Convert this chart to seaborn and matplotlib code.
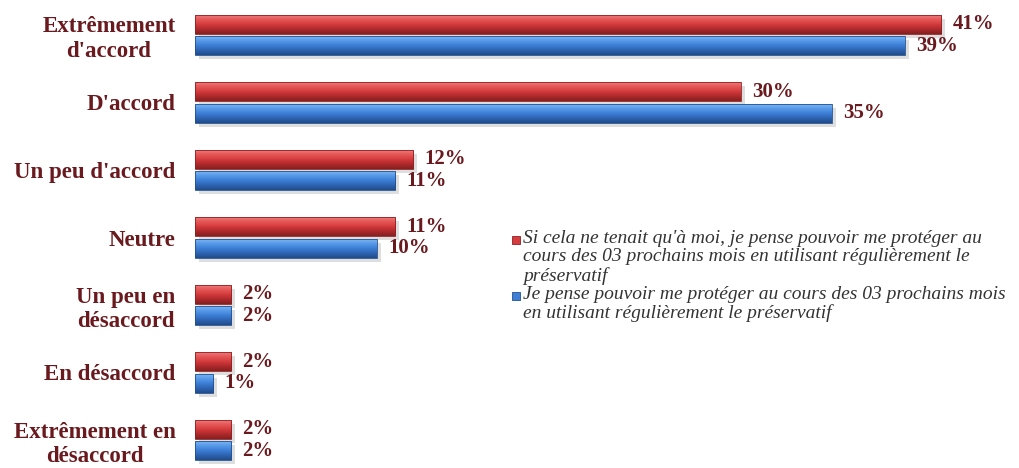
import matplotlib
matplotlib.use("Agg")
import matplotlib.pyplot as plt
import matplotlib.patches as mpatches
from matplotlib.colors import to_rgba
import numpy as np
import pandas as pd
import seaborn as sns

# Survey answers and the two statements being rated
categories = [
    "Extrêmement\nd'accord",
    "D'accord",
    "Un peu d'accord",
    "Neutre",
    "Un peu en\ndésaccord",
    "En désaccord",
    "Extrêmement en\ndésaccord",
]
series_names = [
    "Si cela ne tenait qu'à moi, je pense pouvoir me protéger au\n"
    "cours des 03 prochains mois en utilisant régulièrement le\n"
    "préservatif",
    "Je pense pouvoir me protéger au cours des 03 prochains mois\n"
    "en utilisant régulièrement le préservatif",
]
values_self = [41, 30, 12, 11, 2, 2, 2]
values_general = [39, 35, 11, 10, 2, 1, 2]

colors = ["#d63c3e", "#3d80d6"]
# top highlight -> body -> bottom shade for the rounded bar look
gradients = [
    ["#f58484", "#e65a5a", "#d63c3e", "#b02a2c", "#84201f"],
    ["#82bdf6", "#5c9dea", "#3d80d6", "#2e64b4", "#214c88"],
]
edge_colors = ["#8e1f22", "#22508f"]
text_color = "#6a1a1e"

df = pd.DataFrame({
    "categorie": categories * 2,
    "serie": [series_names[0]] * len(categories) + [series_names[1]] * len(categories),
    "pourcentage": values_self + values_general,
})

sns.set_theme(style="white")
plt.rcParams["font.family"] = ["Liberation Serif", "DejaVu Serif"]

fig = plt.figure(figsize=(10.19, 4.68), dpi=100)
ax = fig.add_axes([195 / 1019, 0, 824 / 1019, 1])

sns.barplot(
    data=df, y="categorie", x="pourcentage", hue="serie",
    order=categories, hue_order=series_names,
    palette=colors, orient="h", width=0.64, gap=0.12,
    ax=ax, legend=False, saturation=1,
)

xlim = (0, 824 / 18.2)
ylim = (6 + 28 / 67.5, -35 / 67.5)


def shade(stops, n=64):
    pos = np.linspace(0, 1, len(stops))
    rgba = np.array([to_rgba(c) for c in stops])
    t = np.linspace(0, 1, n)
    out = np.stack([np.interp(t, pos, rgba[:, k]) for k in range(4)], axis=1)
    return out[:, None, :]


for container, grad, ec in zip(ax.containers, gradients, edge_colors):
    img = shade(grad)
    for patch in container:
        x0, y0 = patch.get_x(), patch.get_y()
        w, h = patch.get_width(), patch.get_height()
        z = patch.get_zorder()
        patch.set_edgecolor("none")
        shadow = mpatches.Rectangle((x0 + 0.22, y0 + 0.06), w, h,
                                    facecolor="#000000", alpha=0.13,
                                    edgecolor="none", zorder=z - 0.1)
        ax.add_patch(shadow)
        im = ax.imshow(img, extent=[x0, x0 + w, y0 + h, y0], origin="upper",
                       aspect="auto", interpolation="bilinear", zorder=z + 0.05)
        im.set_clip_path(patch)
        ax.add_patch(mpatches.Rectangle((x0, y0), w, h, facecolor="none",
                                        edgecolor=ec, linewidth=0.6, zorder=z + 0.1))
    ax.bar_label(container, labels=[f"{v:g}%" for v in container.datavalues],
                 padding=8, color=text_color, fontsize=15, fontweight="bold")

ax.set_xlim(*xlim)
ax.set_ylim(*ylim)
ax.set_xlabel("")
ax.set_ylabel("")
ax.set_xticks([])
ax.tick_params(axis="y", length=0, pad=14)
for lbl in ax.get_yticklabels():
    lbl.set_fontsize(16.5)
    lbl.set_fontweight("bold")
    lbl.set_color(text_color)
    lbl.set_multialignment("center")
for side in ax.spines.values():
    side.set_visible(False)

# Legend: square key next to the first line of each wrapped statement
W, H = 1019, 468
legend_font = {"family": ["Liberation Serif", "DejaVu Serif"], "style": "italic",
               "size": 14, "color": "#333333"}
entry_tops = [230, 286]
for name, c, ec, top in zip(series_names, colors, edge_colors, entry_tops):
    fig.text(523 / W, 1 - top / H, name, ha="left", va="top",
             linespacing=1.1, **legend_font)
    key = mpatches.Rectangle((512 / W, 1 - (top + 14) / H), 8 / W, 8 / H,
                             transform=fig.transFigure, facecolor=c,
                             edgecolor=ec, linewidth=0.6)
    fig.patches.append(key)

fig.savefig("out.png", dpi=100)
